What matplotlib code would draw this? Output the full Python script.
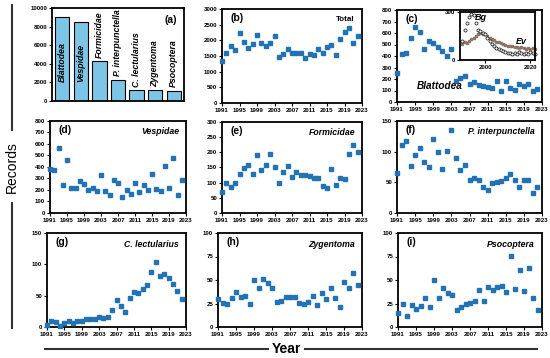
import numpy as np
import matplotlib
matplotlib.use("Agg")
import matplotlib.pyplot as plt

plt.rcParams['font.family'] = ['Liberation Sans', 'DejaVu Sans']

# panel (a) totals
groups = ['Blattodea', 'Vespidae', 'Formicidae', 'P. interpunctella',
          'C. lectularius', 'Zygentoma', 'Psocoptera']
group_totals = [9000, 8450, 4250, 2300, 1200, 1150, 1100]

years = list(range(1991, 2023))

total = [1330, 1600, 1830, 1700, 2220, 1940, 1770, 1870, 2170, 1910, 1810,
         1930, 2140, 1480, 1550, 1720, 1610, 1600, 1590, 1450, 1550, 1540,
         1710, 1600, 1790, 1840, 1520, 2050, 2270, 2380, 1920, 2140]
blattodea = [250, 420, 430, 555, 655, 610, 460, 530, 510, 475, 440, 400,
             465, 185, 210, 225, 160, 170, 145, 140, 130, 120, 180, 100,
             180, 125, 105, 155, 135, 155, 100, 115]
vespidae = [380, 375, 565, 240, 460, 215, 220, 275, 250, 200, 220, 195,
            330, 195, 160, 290, 265, 140, 200, 165, 260, 180, 245, 200,
            340, 205, 190, 410, 215, 480, 160, 285]
formicidae = [70, 100, 85, 100, 128, 148, 157, 130, 190, 143, 158, 195,
              150, 98, 135, 155, 120, 135, 125, 125, 122, 115, 115, 88,
              82, 145, 93, 115, 113, 195, 225, 202]
p_interp = [66, 111, 118, 76, 95, 106, 83, 75, 120, 100, 72, 101, 135, 89,
            70, 78, 54, 57, 53, 43, 37, 49, 51, 52, 57, 64, 54, 43, 53, 54,
            33, 42]
c_lect = [3, 9, 8, 2, 7, 9, 6, 9, 10, 12, 13, 13, 16, 15, 16, 27, 43, 34,
          24, 46, 56, 54, 60, 67, 88, 104, 82, 85, 78, 68, 58, 45]
zygentoma = [30, 26, 24, 31, 37, 32, 33, 25, 50, 41, 51, 47, 42, 27, 28, 32,
             32, 32, 26, 25, 27, 33, 23, 36, 30, 41, 31, 21, 48, 41, 57, 45]
psocoptera = [15, 25, 12, 23, 19, 22, 31, 21, 50, 31, 42, 36, 34, 18, 21,
              24, 26, 28, 39, 28, 43, 39, 43, 44, 37, 76, 40, 61, 38, 63,
              31, 18]

# inset of (c): Bg and Ev
inset_years = list(range(1990, 2023))
bg = [120, 190, 230, 270, 290, 280, 230, 190, 180, 170, 160, 140, 120, 100,
      90, 75, 70, 60, 55, 50, 45, 45, 40, 45, 40, 50, 45, 40, 45, 40, 50,
      45, 40]
ev = [100, 110, 105, 120, 130, 140, 150, 165, 170, 165, 160, 150, 140, 130,
      125, 115, 110, 105, 100, 95, 90, 90, 85, 80, 80, 75, 80, 75, 70, 75,
      70, 75, 70]

W, H = 550, 358
fig = plt.figure(figsize=(W / 100, H / 100), dpi=100)


def box(l, t, r, b):
    return [l / W, 1 - b / H, (r - l) / W, (b - t) / H]


def style(ax):
    for s in ax.spines.values():
        s.set_linewidth(1.3)
    ax.tick_params(direction='out', length=2, width=0.8, labelsize=4.4, pad=1.5)
    for lab in ax.get_xticklabels() + ax.get_yticklabels():
        lab.set_fontweight('bold')


blue = '#2272b4'

# (a) bar chart
ax = fig.add_axes(box(52, 8, 184, 101))
x = np.arange(len(groups))
ax.bar(x, group_totals, width=0.78, color='#7cc5e7', edgecolor='black', linewidth=0.8)
ax.set_xlim(-0.55, len(groups) - 0.45)
ax.set_ylim(0, 10000)
ax.set_yticks(range(0, 10001, 2000))
ax.set_xticks([])
for i, (g, v) in enumerate(zip(groups, group_totals)):
    y = 2000 if v > 8000 else max(v, 1200) + 350
    ax.text(i, y, g, rotation=90, ha='center', va='bottom', fontsize=6.3,
            style='italic', fontweight='bold')
ax.text(0.95, 0.92, '(a)', transform=ax.transAxes, ha='right', va='top',
        fontsize=7.5, fontweight='bold')
style(ax)

panels = [
    ('b', total, (222, 9, 362, 103), (0, 3000, 500), 'Total'),
    ('c', blattodea, (397, 10, 542, 102), (0, 800, 100), None),
    ('d', vespidae, (50, 121, 186, 213), (0, 800, 100), 'Vespidae'),
    ('e', formicidae, (222, 122, 362, 213), (0, 300, 50), 'Formicidae'),
    ('f', p_interp, (397, 121, 542, 213), (0, 150, 50), 'P. interpunctella'),
    ('g', c_lect, (47, 233, 186, 327), (0, 150, 50), 'C. lectularius'),
    ('h', zygentoma, (218, 233, 362, 327), (0, 100, 25), 'Zygentoma'),
    ('i', psocoptera, (398, 233, 542, 327), (0, 100, 25), 'Psocoptera'),
]

for letter, vals, pos, (y0, y1, step), name in panels:
    ax = fig.add_axes(box(*pos))
    ax.plot(years, vals, 's', color=blue, ms=3.0, clip_on=False, zorder=3)
    ax.set_xlim(1991, 2023)
    ax.set_xticks(range(1991, 2024, 4))
    ax.set_ylim(y0, y1)
    ax.set_yticks(np.arange(y0, y1 + 1, step))
    ax.text(0.06, 0.96, '(%s)' % letter, transform=ax.transAxes, ha='left',
            va='top', fontsize=7.5, fontweight='bold')
    if name == 'Total':
        ax.text(0.95, 0.93, name, transform=ax.transAxes, ha='right', va='top',
                fontsize=5.8, fontweight='bold')
    elif name:
        ax.text(0.95, 0.93, name, transform=ax.transAxes, ha='right', va='top',
                fontsize=6.3, fontweight='bold', style='italic')
    style(ax)
    if letter == 'c':
        ax.text(0.14, 0.12, 'Blattodea', transform=ax.transAxes, ha='left',
                va='bottom', fontsize=7.2, fontweight='bold', style='italic')

# inset in (c)
ins = fig.add_axes(box(460, 12, 535, 60))
ins.plot(inset_years, ev, 's', color='#8c7569', ms=1.9, clip_on=False)
ins.plot(inset_years, bg, 'o', mfc='white', mec='#2b2b2b', mew=0.6, ms=2.2,
         clip_on=False)
ins.set_xlim(1989, 2022)
ins.set_ylim(0, 300)
ins.set_xticks([2000, 2020])
ins.set_yticks([0, 300])
ins.text(1995.5, 265, 'Bg', fontsize=6.5, fontweight='bold', style='italic',
         va='center')
ins.text(2013.5, 115, 'Ev', fontsize=6.5, fontweight='bold', style='italic',
         va='center')
style(ins)

# shared axis labels with lines
fig.add_artist(plt.Line2D([12 / W, 12 / W], [1 - 5 / H, 1 - 130 / H],
                          color='#333333', lw=1.5))
fig.add_artist(plt.Line2D([12 / W, 12 / W], [1 - 203 / H, 1 - 328 / H],
                          color='#333333', lw=1.5))
fig.text(12 / W, 1 - 167 / H, 'Records', rotation=90, ha='center',
         va='center', fontsize=10)
fig.add_artist(plt.Line2D([45 / W, 268 / W], [1 - 349 / H, 1 - 349 / H],
                          color='#333333', lw=1.5))
fig.add_artist(plt.Line2D([305 / W, 537 / W], [1 - 349 / H, 1 - 349 / H],
                          color='#333333', lw=1.5))
fig.text(286 / W, 1 - 349 / H, 'Year', ha='center', va='center',
         fontsize=10, fontweight='bold')

fig.savefig('out.png', dpi=100)
